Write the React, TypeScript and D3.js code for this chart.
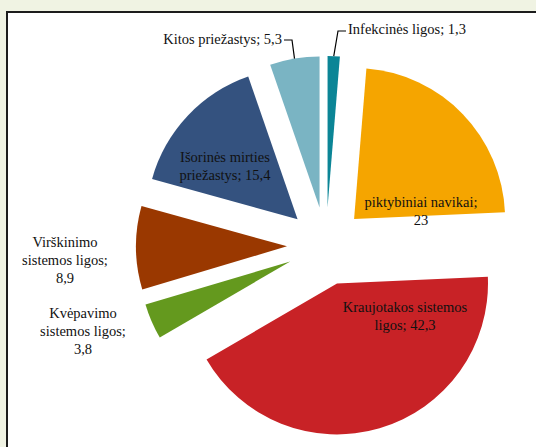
import React from "react";
import * as d3 from "d3";

const categories = [
  "Infekcinės ligos",
  "piktybiniai navikai",
  "Kraujotakos sistemos ligos",
  "Kvėpavimo sistemos ligos",
  "Virškinimo sistemos ligos",
  "Išorinės mirties priežastys",
  "Kitos priežastys",
];
const values = [1.3, 23, 42.3, 3.8, 8.9, 15.4, 5.3];
const valueLabels = ["1,3", "23", "42,3", "3,8", "8,9", "15,4", "5,3"];
const colors = ["#0b8596", "#f5a500", "#c82226", "#64991e", "#9a3800", "#34527f", "#7ab4c3"];

// label layout (text lines + anchor)
const labelLines: string[][] = [
  ["Infekcinės ligos; 1,3"],
  ["piktybiniai navikai;", "23"],
  ["Kraujotakos sistemos", "ligos; 42,3"],
  ["Kvėpavimo", "sistemos ligos;", "3,8"],
  ["Virškinimo", "sistemos ligos;", "8,9"],
  ["Išorinės mirties", "priežastys; 15,4"],
  ["Kitos priežastys; 5,3"],
];
const labelLayout = [
  { x: 348, y: 29, anchor: "start" },
  { x: 421, y: 202, anchor: "middle" },
  { x: 405, y: 307, anchor: "middle" },
  { x: 83, y: 313, anchor: "middle" },
  { x: 65, y: 242, anchor: "middle" },
  { x: 225, y: 157, anchor: "middle" },
  { x: 282, y: 39, anchor: "end" },
];
// leader lines: [elbow point, end point] for outside labels
const leaders: Record<number, [number, number][]> = {
  0: [[338, 31], [346, 31]],
  6: [[292, 40], [284, 40]],
};

const W = 536;
const H = 447;
const cx = 326;
const cy = 246;
const R = 151;
const EXPLODE = 39;
const FS = 14.5;
const LH = 18;

export default function App() {
  const pie = d3.pie<number>().sort(null).value((d) => d).startAngle(0).endAngle(2 * Math.PI);
  const arcs = pie(values);
  const arcGen = d3.arc<d3.PieArcDatum<number>>().innerRadius(0).outerRadius(R);

  return (
    <svg width={W} height={H} style={{ position: "absolute", left: 0, top: 0 }}>
      <rect x={0} y={0} width={W} height={H} fill="#f0f3e3" />
      <rect x={7} y={12} width={W + 20} height={H + 20} fill="#ffffff" stroke="#1c1c1c" strokeWidth={2} />
      <g transform={`translate(${cx},${cy})`}>
        {arcs.map((a, i) => {
          const mid = (a.startAngle + a.endAngle) / 2;
          const dx = EXPLODE * Math.sin(mid);
          const dy = -EXPLODE * Math.cos(mid);
          return (
            <path key={categories[i]} d={arcGen(a) || ""} fill={colors[i]} transform={`translate(${dx},${dy})`} />
          );
        })}
      </g>
      {arcs.map((a, i) => {
        const pts = leaders[i];
        if (!pts) return null;
        const mid = (a.startAngle + a.endAngle) / 2;
        const ex = cx + (EXPLODE + R) * Math.sin(mid);
        const ey = cy - (EXPLODE + R) * Math.cos(mid);
        const line = d3.line()([[ex, ey], ...pts]);
        return <path key={"l" + i} d={line || ""} fill="none" stroke="#000" strokeWidth={1.2} />;
      })}
      {labelLines.map((lines, i) => (
        <text
          key={"t" + i}
          x={labelLayout[i].x}
          y={labelLayout[i].y}
          textAnchor={labelLayout[i].anchor as any}
          fontFamily="'Liberation Serif', serif"
          fontSize={FS}
          fill="#111"
        >
          {lines.map((ln, j) => (
            <tspan key={j} x={labelLayout[i].x} y={labelLayout[i].y + j * LH} dominantBaseline="central">
              {ln}
            </tspan>
          ))}
        </text>
      ))}
    </svg>
  );
}
